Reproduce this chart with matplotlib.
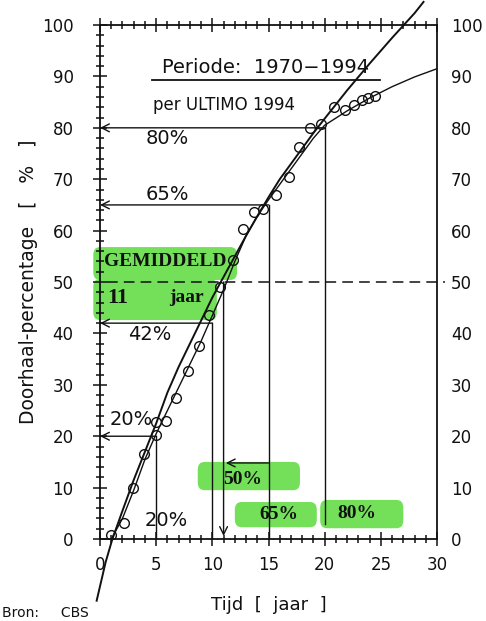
import matplotlib.pyplot as plt
import numpy as np
from matplotlib.patches import FancyBboxPatch

# measured points (cumulative percentage vs time in years)
t_obs = [1.0, 2.1, 2.9, 3.9, 5.0, 5.0, 5.9, 6.8, 7.8, 8.8, 9.7, 10.7, 11.8, 12.7,
         13.7, 14.5, 15.7, 16.8, 17.7, 18.7, 19.7, 20.8, 21.8, 22.6, 23.3, 23.9, 24.5]
p_obs = [0.8, 3.2, 9.9, 16.5, 20.2, 22.8, 23.0, 27.4, 32.7, 37.6, 43.6, 49.1, 54.3, 60.4,
         63.6, 64.3, 66.9, 70.5, 76.3, 79.9, 80.7, 84.0, 83.5, 84.4, 85.4, 85.9, 86.2]

# fitted curve through the points
t_fit = [1.0, 2, 3, 4, 5, 6, 7, 8, 9, 10, 11, 12, 13, 14, 15, 16, 17, 18, 19, 20,
         22, 24, 26, 28, 30]
p_fit = [0, 4.0, 9.5, 15.5, 20.5, 25.0, 29.5, 34.0, 38.5, 43.5, 48.5, 54.0, 59.0,
         62.8, 66.0, 69.0, 72.0, 75.0, 78.0, 80.5, 83.3, 85.8, 88.0, 89.9, 91.5]

# steeper curve (runs outside the frame)
t_steep = [-0.3, 0.5, 1.1, 2, 3, 4, 5, 6, 7, 8, 9, 10, 11, 12, 13, 14, 15, 16, 17,
           18, 19, 20, 22, 24, 26, 28, 28.8]
p_steep = [-12, -4.5, 0, 5.5, 11.5, 17.0, 22.5, 28.5, 33.5, 38.0, 42.5, 47.0, 51.0,
           55.0, 59.0, 62.8, 66.5, 70.0, 73.0, 76.0, 79.0, 81.8, 87.3, 92.5, 97.5,
           102.3, 104.5]

# read-off levels: percentage -> time
levels = [20, 42, 65, 80]
level_t = [5, 10, 15, 20]
mean_t = 11

ink = '#111111'
green = '#74e05a'

fig = plt.figure(figsize=(4.86, 6.21), dpi=100)
ax = fig.add_axes([0.2058, 0.132, 0.6934, 0.8277])
ax.set_xlim(0, 30)
ax.set_ylim(0, 100)

# ticks on all sides, crossing the frame
ax.set_xticks(np.arange(0, 31, 5))
ax.set_xticks(np.arange(0, 31, 1), minor=True)
ax.set_yticks(np.arange(0, 101, 10))
ax.set_yticks(np.arange(0, 101, 2), minor=True)
ax.tick_params(which='both', direction='inout', top=True, right=True,
               color=ink, width=1.1, labelsize=12, labelcolor=ink)
ax.tick_params(which='major', length=10)
ax.tick_params(which='minor', length=6)
ax.tick_params(axis='y', which='major', pad=14)
ax.tick_params(axis='x', which='major', pad=7)
for s in ax.spines.values():
    s.set_color(ink)
    s.set_linewidth(1.3)

# labels on the right side
ax2 = ax.twinx()
ax2.set_ylim(0, 100)
ax2.set_yticks(np.arange(0, 101, 10))
ax2.tick_params(axis='y', length=0, pad=10, labelsize=12, labelcolor=ink)
for s in ax2.spines.values():
    s.set_visible(False)

ax.set_xlabel('Tijd  [  jaar  ]', fontsize=13, color=ink, labelpad=16)
ax.set_ylabel('Doorhaal-percentage   [   %   ]', fontsize=13.5, color=ink, labelpad=3)

# green highlighter patches
def marker_box(x0, y0, w, h):
    ax.add_patch(FancyBboxPatch((x0, y0), w, h, boxstyle='round,pad=0,rounding_size=0.6',
                                fc=green, ec='none', zorder=1, clip_on=False,
                                mutation_aspect=2.5))

marker_box(-0.6, 42.6, 11.0, 8.0)
marker_box(-0.6, 50.4, 12.8, 6.4)
marker_box(8.7, 9.5, 9.1, 5.5)
marker_box(12.0, 2.3, 7.3, 4.9)
marker_box(19.6, 2.1, 7.4, 5.5)

# curves and points
ax.plot(t_steep, p_steep, color=ink, lw=1.4, clip_on=False, zorder=3)
ax.plot(t_fit, p_fit, color=ink, lw=1.0, zorder=3)
ax.plot(t_obs, p_obs, 'o', mfc='none', mec=ink, ms=7, mew=1.0, zorder=4)

# read-off arrows and verticals
arrow = dict(arrowstyle='->', color=ink, lw=1.0, mutation_scale=14, shrinkA=0, shrinkB=0)
for lv, tv in zip(levels, level_t):
    ax.annotate('', xy=(0, lv), xytext=(tv, lv), arrowprops=arrow, zorder=3)
    bottom = 3 if lv == 80 else 0
    ax.plot([tv, tv], [bottom, lv], color=ink, lw=1.0, zorder=3)
ax.annotate('', xy=(mean_t, 0.6), xytext=(mean_t, 50), arrowprops=arrow, zorder=3)
ax.annotate('', xy=(11.2, 14.8), xytext=(15, 14.8), arrowprops=arrow, zorder=3)
ax.plot([0.6, 30.7], [50, 50], color=ink, lw=1.1, ls=(0, (7, 4)), clip_on=False, zorder=3)

# text
ax.text(14.7, 91.8, 'Periode:  1970\u22121994', fontsize=14, ha='center', va='center', color=ink)
ax.plot([4.6, 24.9], [89.3, 89.3], color=ink, lw=1.3)
ax.text(11, 84.4, 'per ULTIMO 1994', fontsize=12, ha='center', va='center', color=ink)
for x, y, s in [(6, 78, '80%'), (6, 67.1, '65%'), (4.45, 39.7, '42%'),
                (2.8, 23.2, '20%'), (5.9, 3.7, '20%')]:
    ax.text(x, y, s, fontsize=14, ha='center', va='center', color=ink)

bold = dict(family='Liberation Serif', weight='bold', color=ink, va='center', zorder=5)
ax.text(5.8, 53.9, 'GEMIDDELD', fontsize=14, ha='center', **bold)
ax.text(1.6, 46.9, '11', fontsize=16, ha='center', **bold)
ax.text(7.7, 46.9, 'jaar', fontsize=14, ha='center', **bold)
ax.text(12.7, 11.6, '50%', fontsize=14, ha='center', **bold)
ax.text(15.9, 4.7, '65%', fontsize=14, ha='center', **bold)
ax.text(22.9, 5.0, '80%', fontsize=14, ha='center', **bold)

fig.text(0.005, 0.002, 'Bron:     CBS', fontsize=10, color=ink, va='bottom')

fig.savefig('out.png', dpi=100, facecolor='white')
